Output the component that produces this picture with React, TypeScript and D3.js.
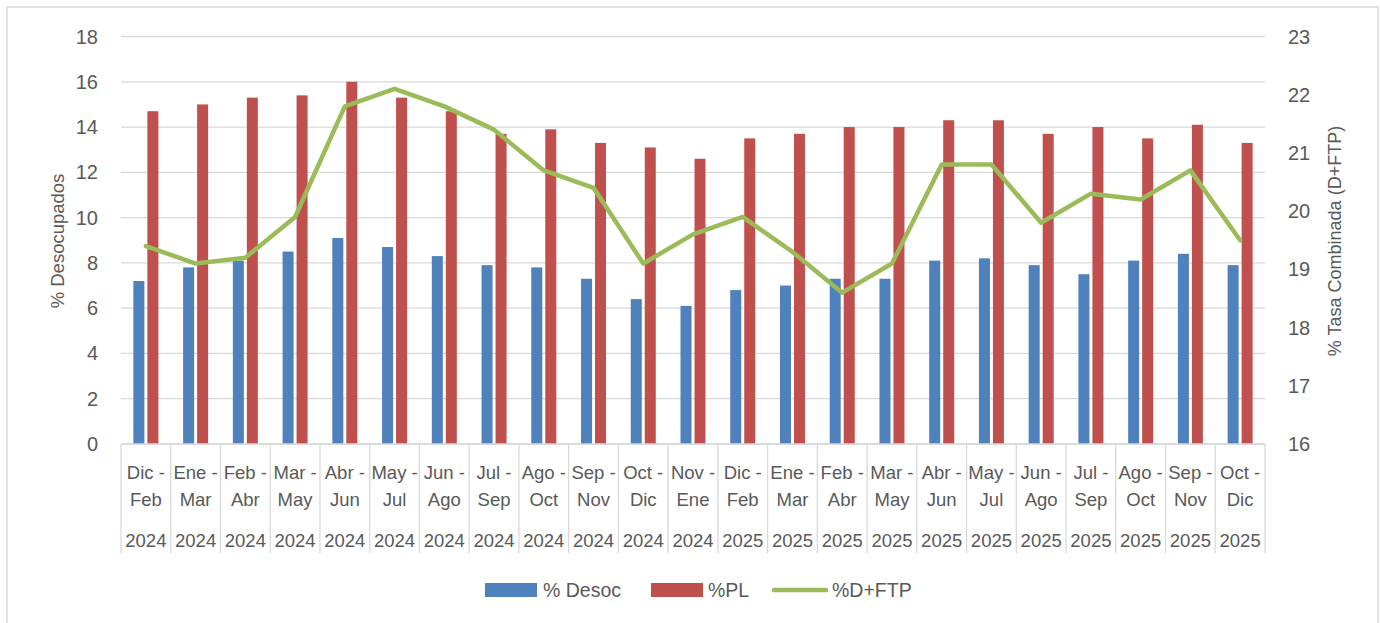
import React from "react";
import * as d3 from "d3";

const monthsTop = ["Dic -", "Ene -", "Feb -", "Mar -", "Abr -", "May -", "Jun -", "Jul -", "Ago -", "Sep -", "Oct -", "Nov -", "Dic -", "Ene -", "Feb -", "Mar -", "Abr -", "May -", "Jun -", "Jul -", "Ago -", "Sep -", "Oct -"];
const monthsBottom = ["Feb", "Mar", "Abr", "May", "Jun", "Jul", "Ago", "Sep", "Oct", "Nov", "Dic", "Ene", "Feb", "Mar", "Abr", "May", "Jun", "Jul", "Ago", "Sep", "Oct", "Nov", "Dic"];
const years = ["2024", "2024", "2024", "2024", "2024", "2024", "2024", "2024", "2024", "2024", "2024", "2024", "2025", "2025", "2025", "2025", "2025", "2025", "2025", "2025", "2025", "2025", "2025"];
const desoc = [7.2, 7.8, 8.1, 8.5, 9.1, 8.7, 8.3, 7.9, 7.8, 7.3, 6.4, 6.1, 6.8, 7.0, 7.3, 7.3, 8.1, 8.2, 7.9, 7.5, 8.1, 8.4, 7.9];
const pl = [14.7, 15.0, 15.3, 15.4, 16.0, 15.3, 14.7, 13.7, 13.9, 13.3, 13.1, 12.6, 13.5, 13.7, 14.0, 14.0, 14.3, 14.3, 13.7, 14.0, 13.5, 14.1, 13.3];
const dftp = [19.4, 19.1, 19.2, 19.9, 21.8, 22.1, 21.8, 21.4, 20.7, 20.4, 19.1, 19.6, 19.9, 19.3, 18.6, 19.1, 20.8, 20.8, 19.8, 20.3, 20.2, 20.7, 19.5];
const leftTicks = [0, 2, 4, 6, 8, 10, 12, 14, 16, 18];
const rightTicks = [16, 17, 18, 19, 20, 21, 22, 23];

const W = 1380;
const H = 623;
const L = 121;
const R = 1265;
const T = 36.5;
const B = 444;
const FONT = "'Liberation Sans', Arial, sans-serif";
const TXT = "#595959";
const GRID = "#D9D9D9";
const BLUE = "#4F81BD";
const RED = "#C0504D";
const GREEN = "#9BBB59";

export default function App() {
  const idx = d3.range(desoc.length);
  const x = d3.scaleBand<number>().domain(idx).range([L, R]).paddingInner(0).paddingOuter(0);
  const yL = d3.scaleLinear().domain([0, 18]).range([B, T]);
  const yR = d3.scaleLinear().domain([16, 23]).range([B, T]);
  const bw = 11;
  const gap = 3;
  const cx = (i: number) => (x(i) as number) + x.bandwidth() / 2;
  const line = d3
    .line<number>()
    .x((_, i) => cx(i))
    .y((d) => yR(d));

  return (
    <svg width={W} height={H} style={{ display: "block", position: "absolute", left: 0, top: 0 }} fontFamily={FONT}>
      <rect x={0} y={0} width={W} height={H} fill="#fff" />
      <rect x={7} y={7} width={1371} height={H + 10} fill="none" stroke={GRID} strokeWidth={1.5} />
      {leftTicks.map((t) => (
        <line key={"g" + t} x1={L} x2={R} y1={yL(t)} y2={yL(t)} stroke={GRID} strokeWidth={1.3} />
      ))}
      {leftTicks.map((t) => (
        <text key={"lt" + t} x={98} y={yL(t)} textAnchor="end" dominantBaseline="central" fontSize={20} fill={TXT}>
          {t}
        </text>
      ))}
      {rightTicks.map((t) => (
        <text key={"rt" + t} x={1288} y={yR(t)} textAnchor="start" dominantBaseline="central" fontSize={20} fill={TXT}>
          {t}
        </text>
      ))}
      <text transform={`translate(57,241) rotate(-90)`} textAnchor="middle" dominantBaseline="central" fontSize={18.5} fill={TXT}>
        % Desocupados
      </text>
      <text transform={`translate(1335,241) rotate(-90)`} textAnchor="middle" dominantBaseline="central" fontSize={18} fill={TXT}>
        % Tasa Combinada (D+FTP)
      </text>
      {idx.map((i) => (
        <g key={"b" + i}>
          <rect x={cx(i) - gap / 2 - bw} y={yL(desoc[i])} width={bw} height={B - yL(desoc[i])} fill={BLUE} />
          <rect x={cx(i) + gap / 2} y={yL(pl[i])} width={bw} height={B - yL(pl[i])} fill={RED} />
        </g>
      ))}
      <line x1={L} x2={R} y1={B} y2={B} stroke={GRID} strokeWidth={1.3} />
      {d3.range(desoc.length + 1).map((i) => {
        const xx = i < desoc.length ? (x(i) as number) : R;
        return <line key={"v" + i} x1={xx} x2={xx} y1={B} y2={553} stroke={GRID} strokeWidth={1.3} />;
      })}
      {idx.map((i) => (
        <g key={"c" + i} fontSize={18.5} fill={TXT} textAnchor="middle">
          <text x={cx(i)} y={472} dominantBaseline="central">{monthsTop[i]}</text>
          <text x={cx(i)} y={499} dominantBaseline="central">{monthsBottom[i]}</text>
          <text x={cx(i)} y={540} dominantBaseline="central">{years[i]}</text>
        </g>
      ))}
      <path d={line(dftp) || ""} fill="none" stroke={GREEN} strokeWidth={4.5} strokeLinejoin="round" strokeLinecap="round" />
      <g fontSize={19.5} fill={TXT}>
        <rect x={485} y={583} width={52} height={14} fill={BLUE} />
        <text x={543} y={590} dominantBaseline="central">% Desoc</text>
        <rect x={651} y={583} width={52} height={14} fill={RED} />
        <text x={708} y={590} dominantBaseline="central">%PL</text>
        <line x1={774} x2={826} y1={590} y2={590} stroke={GREEN} strokeWidth={4.5} strokeLinecap="round" />
        <text x={832} y={590} dominantBaseline="central">%D+FTP</text>
      </g>
    </svg>
  );
}
